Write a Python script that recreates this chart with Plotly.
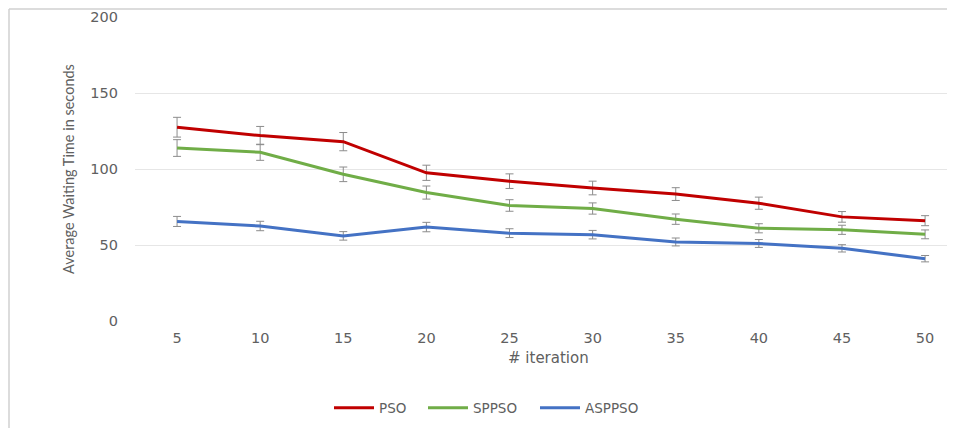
import plotly.graph_objects as go

iterations = [5, 10, 15, 20, 25, 30, 35, 40, 45, 50]
pso = [127.5, 122, 118, 97.5, 92, 87.5, 83.5, 77.5, 68.5, 66]
sppso = [113.8, 111, 96.5, 84.5, 76, 74, 67, 61, 60, 57]
asppso = [65.5, 62.5, 56, 61.8, 57.8, 56.8, 52, 51, 47.8, 41]
pso_err = [6.5, 6, 6, 5, 4.8, 4.5, 4.2, 4, 3.5, 3.3]
sppso_err = [5.5, 5.3, 4.8, 4.3, 3.8, 3.7, 3.4, 3, 3, 2.9]
asppso_err = [3.3, 3.1, 2.8, 3.1, 2.9, 2.8, 2.6, 2.6, 2.4, 2.1]
series_names = ["PSO", "SPPSO", "ASPPSO"]
colors = ["#C00000", "#70AD47", "#4472C4"]

txt_col = "#606060"
tick_font = dict(family="DejaVu Sans", size=14.5, color=txt_col)
legend_font = dict(family="DejaVu Sans", size=13.5, color=txt_col)


# plot area in page pixels: x 135..955, y 17..321 (page has 8px body margin)
def px(xp):
    return (xp - 135) / 820


def py(yp):
    return (321 - yp) / 304


legend_ids = ["legend", "legend2", "legend3"]
legend_starts = [334, 428, 540]

fig = go.Figure()
for name, vals, errs, col, lid in zip(series_names, [pso, sppso, asppso],
                                      [pso_err, sppso_err, asppso_err],
                                      colors, legend_ids):
    fig.add_trace(go.Scatter(
        x=iterations, y=vals, name=name, mode="lines",
        line=dict(color=col, width=3),
        legend=lid,
        error_y=dict(type="data", array=errs, visible=True,
                     color="#8c8c8c", thickness=1, width=4),
    ))

legend_layouts = {}
for lid, xs in zip(legend_ids, legend_starts):
    legend_layouts[lid] = dict(
        orientation="h", x=px(xs - 5), xanchor="left", y=py(408),
        yanchor="middle", font=legend_font, itemwidth=40,
        bgcolor="rgba(0,0,0,0)", borderwidth=0,
    )

fig.update_layout(
    width=947, height=420,
    margin=dict(l=127, r=0, t=9, b=107),
    paper_bgcolor="white", plot_bgcolor="white",
    showlegend=True,
    xaxis=dict(range=[2.47, 51.8], tickvals=iterations,
               ticktext=[str(v) for v in iterations],
               showgrid=False, zeroline=False, showline=False,
               tickfont=tick_font, ticklabelstandoff=6),
    yaxis=dict(range=[0, 200], tickvals=[0, 50, 100, 150, 200],
               showgrid=True, gridcolor="#e6e6e6", gridwidth=1,
               zeroline=False, showline=False,
               tickfont=tick_font, ticklabelstandoff=16),
    annotations=[
        dict(text="# iteration", xref="paper", yref="paper",
             x=px(548), y=py(358),
             xanchor="center", yanchor="middle", showarrow=False,
             font=dict(family="DejaVu Sans", size=15, color=txt_col)),
        dict(text="Average Waiting Time in seconds", xref="paper", yref="paper",
             x=px(68), y=py(169), textangle=-90,
             xanchor="center", yanchor="middle", showarrow=False,
             font=dict(family="Lato", size=14.5, color=txt_col)),
    ],
    shapes=[
        dict(type="line", xref="paper", yref="paper",
             x0=(1 - 127) / 820, x1=1.05, y0=(313 - 1) / 304, y1=(313 - 1) / 304,
             line=dict(color="#d0d0d0", width=1.5), layer="below"),
        dict(type="line", xref="paper", yref="paper",
             x0=(1 - 127) / 820, x1=(1 - 127) / 820, y0=-0.5, y1=(313 - 1) / 304,
             line=dict(color="#d0d0d0", width=1.5), layer="below"),
    ],
    **legend_layouts,
)

fig.write_html("out.html")
